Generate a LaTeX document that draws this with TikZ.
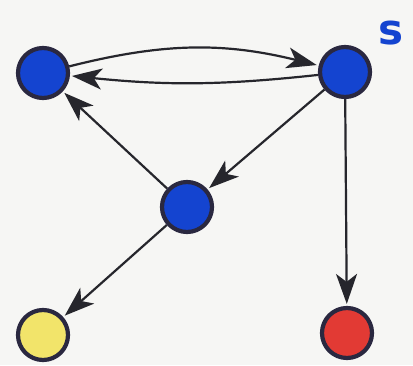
\documentclass[tikz,border=0pt]{standalone}
\usepackage{fontspec}
\setmainfont{DejaVu Sans}
\usetikzlibrary{arrows.meta}
\definecolor{nodeblue}{HTML}{1444D0}
\definecolor{nodeyellow}{HTML}{F2E46A}
\definecolor{nodered}{HTML}{E23A34}
\definecolor{rimcol}{HTML}{2A2840}
\definecolor{inkcol}{HTML}{26262C}
\definecolor{paper}{HTML}{F6F6F4}
\tikzset{
  vert/.style={circle, draw=rimcol, line width=4.2pt, minimum size=50pt, inner sep=0pt},
  edge/.style={draw=inkcol, line width=2.2pt, -{Stealth[length=30pt,width=21pt,inset=8pt]}, shorten >=2pt}
}
\begin{document}
\begin{tikzpicture}[x=1pt,y=-1pt]
\fill[paper] (0,0) rectangle (413,365);
\useasboundingbox (0,0) rectangle (413,365);
\node[vert, fill=nodeblue] (A) at (43,73) {};
\node[vert, fill=nodeblue] (B) at (345,72) {};
\node[vert, fill=nodeblue] (C) at (187,207) {};
\node[vert, fill=nodeyellow] (D) at (43,335) {};
\node[vert, fill=nodered] (E) at (347,333) {};
\node[text=nodeblue, font=\bfseries\fontsize{42}{42}\selectfont] (S) at (391,33) {s};
\draw[edge] (A) to[bend left=14] (B);
\draw[edge] (B) to[bend left=6] (A);
\draw[edge] (C) -- (A);
\draw[edge] (B) -- (C);
\draw[edge] (C) -- (D);
\draw[edge] (B) -- (E);
\end{tikzpicture}
\end{document}
